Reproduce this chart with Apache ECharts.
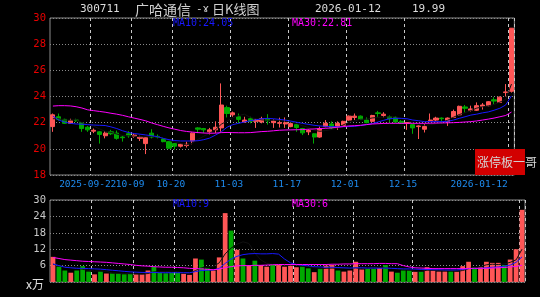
<!DOCTYPE html>
<html><head><meta charset="utf-8">
<script src="https://cdn.jsdelivr.net/npm/echarts@6/dist/echarts.min.js"></script>
<style>html,body{margin:0;padding:0;background:#000;}#c{width:540px;height:297px;}</style>
</head><body><div id="c"></div>
<script>
// ---------- DATA ----------
const dates = [
'2025-09-11','2025-09-12','2025-09-15','2025-09-16','2025-09-17','2025-09-18','2025-09-19','2025-09-22','2025-09-23','2025-09-24',
'2025-09-25','2025-09-26','2025-09-29','2025-09-30','2025-10-09','2025-10-10','2025-10-13','2025-10-14','2025-10-15','2025-10-16',
'2025-10-17','2025-10-20','2025-10-21','2025-10-22','2025-10-23','2025-10-24','2025-10-27','2025-10-28','2025-10-29','2025-10-30',
'2025-10-31','2025-11-03','2025-11-04','2025-11-05','2025-11-06','2025-11-07','2025-11-10','2025-11-11','2025-11-12','2025-11-13',
'2025-11-14','2025-11-17','2025-11-18','2025-11-19','2025-11-20','2025-11-21','2025-11-24','2025-11-25','2025-11-26','2025-11-27',
'2025-11-28','2025-12-01','2025-12-02','2025-12-03','2025-12-04','2025-12-05','2025-12-08','2025-12-09','2025-12-10','2025-12-11',
'2025-12-12','2025-12-15','2025-12-16','2025-12-17','2025-12-18','2025-12-19','2025-12-22','2025-12-23','2025-12-24','2025-12-25',
'2025-12-26','2025-12-29','2025-12-30','2025-12-31','2026-01-05','2026-01-06','2026-01-07','2026-01-08','2026-01-09','2026-01-12'];

const openP = [21.7,22.45,22.25,21.95,22.2,22.0,21.65,21.35,21.3,21.0, 21.3,21.2,20.9,21.15,20.95,20.8,20.4,21.2,20.95,20.75,
 20.55,20.4,20.2,20.25,20.6,21.6,21.55,21.3,21.45,21.6, 23.15,22.6,22.45,22.05,22.3,22.1,22.05,22.3,22.0,21.95,
 21.9,21.7,21.85,21.55,21.3,21.15,20.9,21.7,21.9,21.7, 21.8,22.2,22.4,22.5,22.2,22.1,22.75,22.55,22.45,22.4,
 22.1,21.95,21.85,21.7,21.5,22.15,22.2,22.35,22.1,22.4, 22.6,23.2,22.95,22.95,23.25,23.3,23.75,23.55,24.3,24.4];
const closeP = [22.6,22.25,21.95,22.15,22.15,21.55,21.45,21.42,21.1,21.2, 21.15,20.8,20.85,21.0,21.05,20.9,20.85,20.9,20.9,20.55,
 20.05,20.2,20.35,20.35,21.2,21.5,21.45,21.45,21.65,23.35, 22.7,22.75,22.25,22.2,22.1,22.2,22.3,22.15,22.15,22.0,
 22.0,21.93,21.63,21.22,21.4,20.9,21.55,21.95,21.6,21.95, 22.1,22.5,22.5,22.25,22.0,22.55,22.7,22.65,22.3,22.05,
 21.95,22.0,21.6,21.75,21.7,22.2,22.35,22.3,22.35,22.85, 23.25,23.1,23.05,23.3,23.35,23.6,23.65,23.95,24.35,29.22];
const lowP = [21.3,22.15,21.9,21.9,22.05,21.3,21.3,21.2,20.4,20.8, 21.05,20.7,20.55,20.85,20.85,20.6,19.6,20.8,20.8,20.5,
 20.0,19.95,20.1,20.1,20.35,21.2,21.2,21.1,21.2,21.3, 22.4,22.45,21.95,22.0,21.95,21.6,21.95,21.85,21.6,21.63,
 21.6,21.65,21.3,21.05,21.05,20.4,20.85,21.65,21.5,21.45, 21.75,22.15,22.2,22.2,21.95,22.05,22.45,22.4,22.0,21.95,
 21.9,21.45,21.15,20.75,21.25,22.1,22.1,21.95,21.75,22.35, 22.55,22.75,22.85,22.9,23.0,23.25,23.4,23.5,24.0,24.3];
const highP = [22.7,22.7,22.3,22.3,22.3,22.05,21.75,21.55,21.35,21.35, 21.45,21.4,21.0,21.35,21.2,21.0,20.9,21.5,21.1,20.85,
 20.6,20.45,20.4,20.55,21.25,21.65,21.6,21.6,22.1,25.0, 23.3,22.85,22.7,22.45,22.45,22.3,22.45,22.65,22.25,22.38,
 22.4,21.95,21.9,21.6,21.5,21.2,21.7,22.2,22.1,22.1, 22.15,22.55,22.7,22.55,22.4,22.6,22.9,22.8,22.55,22.5,
 22.2,22.05,21.9,21.8,21.9,22.7,22.45,22.4,22.4,23.0, 23.3,23.35,23.3,23.55,23.5,23.65,23.95,24.0,24.95,29.22];

const ma5 = [22.3,22.3,22.2,22.2,22.22,22.01,21.85,21.74,21.53,21.34, 21.26,21.13,21.02,21.0,20.97,20.92,20.93,20.94,20.92,20.82,
 20.65,20.52,20.41,20.3,20.43,20.72,20.97,21.19,21.45,21.88, 22.12,22.38,22.54,22.65,22.4,22.3,22.21,22.19,22.18,22.16,
 22.12,22.05,21.94,21.76,21.64,21.42,21.34,21.4,21.48,21.59, 21.83,22.02,22.13,22.26,22.27,22.36,22.4,22.43,22.44,22.45,
 22.33,22.19,21.98,21.87,21.8,21.85,21.92,22.06,22.18,22.41, 22.62,22.77,22.92,23.11,23.21,23.28,23.39,23.57,23.78,24.95];
const ma10 = [22.5,22.2,22.05,21.95,21.9,21.88,21.85,21.82,21.8,21.78, 21.68,21.55,21.38,21.25,21.17,21.12,21.06,21.0,20.93,20.8,
 20.7,20.63,20.6,20.6,20.6,20.62,20.7,20.82,21.05,21.3, 21.65,21.85,21.95,22.05,22.15,22.22,22.3,22.33,22.3,22.25,
 22.2,22.12,22.03,21.95,21.87,21.8,21.75,21.72,21.7,21.69, 21.69,21.7,21.72,21.78,21.85,21.93,22.05,22.18,22.3,22.33,
 22.33,22.3,22.2,22.15,22.08,22.08,22.08,22.08,22.1,22.2, 22.33,22.45,22.58,22.65,22.75,22.82,22.95,23.1,23.35,24.05];
const ma30 = [23.27,23.3,23.3,23.28,23.22,23.12,22.98,22.92,22.86,22.8, 22.72,22.65,22.56,22.45,22.35,22.25,22.14,21.98,21.85,21.72,
 21.6,21.5,21.4,21.33,21.28,21.24,21.21,21.19,21.2,21.24, 21.25,21.24,21.23,21.23,21.24,21.28,21.32,21.34,21.38,21.42,
 21.44,21.45,21.46,21.47,21.5,21.52,21.55,21.57,21.6,21.65, 21.7,21.75,21.77,21.8,21.85,21.9,21.92,21.94,21.95,21.95,
 21.95,21.95,21.95,21.95,21.95,21.96,21.97,21.98,21.99,22.0, 22.02,22.05,22.08,22.13,22.2,22.27,22.35,22.45,22.55,22.81];

const volume = [9.2,5.6,4.2,3.4,4.2,5.8,3.8,2.8,3.8,3.1, 3.1,3.1,2.8,3.0,2.8,2.8,4.2,5.6,3.4,3.2,
 3.4,3.4,3.0,2.6,8.6,8.2,5.0,4.2,9.0,25.2, 18.8,11.8,8.6,6.0,7.8,6.2,5.6,6.6,6.2,5.6,
 6.5,5.4,5.6,5.0,3.6,4.8,6.0,6.2,4.2,3.8, 4.2,7.4,4.6,4.8,4.8,5.2,6.2,3.8,3.4,4.2,
 4.2,3.8,3.8,5.4,4.2,3.8,3.8,3.8,3.8,5.8, 7.4,5.4,5.4,7.4,7.0,7.0,6.2,8.2,12.0,26.4];
const volMa5 = [6.5,6.0,5.6,5.4,5.3,4.6,4.3,4.0,4.1,3.9, 3.3,3.2,3.2,3.0,3.0,2.9,3.1,3.7,3.8,3.8,
 4.0,3.8,3.3,3.1,4.2,5.2,5.5,5.7,7.0,10.3, 12.4,13.8,14.7,14.1,10.6,8.1,6.8,6.4,6.5,6.0,
 6.1,6.1,5.9,5.6,5.2,4.9,5.0,5.1,5.0,5.0, 4.9,5.2,4.8,5.0,5.2,5.4,5.1,5.0,4.7,4.6,
 4.4,3.9,3.9,4.3,4.3,4.2,4.2,4.2,3.9,4.2, 4.9,5.2,5.6,6.3,6.5,6.4,6.6,7.2,8.1,12.0];
const volMa10 = [6.6,6.0,5.4,5.2,5.0,5.0,4.9,4.8,4.7,4.5, 4.3,4.1,3.9,3.7,3.6,3.5,3.5,3.5,3.4,3.4,
 3.4,3.4,3.4,3.4,3.8,4.2,4.3,4.4,5.0,6.8, 8.4,9.4,10.0,10.3,10.4,10.3,10.3,10.4,10.2,8.4,
 7.0,6.4,6.1,5.9,5.6,5.5,5.4,5.4,5.3,5.2, 5.1,5.2,5.2,5.1,5.1,5.0,5.1,5.0,4.9,4.8,
 4.8,4.7,4.6,4.6,4.5,4.5,4.4,4.4,4.4,4.6, 4.9,4.9,5.0,5.2,5.4,5.5,5.8,6.2,7.2,9.2];
const volMa30 = [9.0,8.6,8.2,8.0,7.8,7.6,7.5,7.4,7.3,7.2, 7.0,6.8,6.6,6.4,6.1,5.9,5.8,5.6,5.5,5.4,
 5.4,5.3,5.2,5.0,4.9,4.8,4.6,4.5,4.7,5.3, 5.6,5.9,6.0,6.0,6.1,6.1,6.2,6.3,6.4,6.4,
 6.4,6.4,6.4,6.4,6.4,6.4,6.4,6.5,6.5,6.6, 6.6,6.7,6.7,6.7,6.7,6.8,6.8,6.7,6.7,6.0,
 5.5,5.2,5.1,5.0,4.9,4.9,4.9,4.9,4.9,4.9, 4.9,5.0,5.0,5.0,5.1,5.2,5.3,5.5,5.7,6.1];

const tickDates  = ['2025-09-22','2025-10-09','2025-10-20','2025-11-03','2025-11-17','2025-12-01','2025-12-15','2026-01-12'];
const tickLabels = ['2025-09-22','10-09','10-20','11-03','11-17','12-01','12-15','2026-01-12'];
const priceTicks = [18, 20, 22, 24, 26, 28, 30];
const volTicks = [0, 6, 12, 18, 24, 30];

const stockCode = '300711', stockName = '广哈通信', lastDate = '2026-01-12', pctChange = '19.99';

// ---------- CHART ----------
const RED = '#ff5656', GREEN = '#00aa00';
const MONO = 'DejaVu Sans Mono';
const CJK = 'Noto Sans CJK SC';
const XLC = '#1e8cf0', XFS = 9.5;
const showTick = (idx, val) => tickDates.indexOf(val) >= 0;
// an empty leading label keeps the min/max-label overlap check away from the first two real labels
const showLabel = (idx, val) => idx === 0 || showTick(idx, val);
const labelFmt = (val) => {
  const k = tickDates.indexOf(val);
  if (k < 0) return '';
  const t = tickLabels[k];
  if (k === 0) return '{f|' + t + '}';
  if (k === tickDates.length - 1) return '{l|' + t + '}{sp|}';
  return '{m|' + t + '}';
};
const rs = (o) => Object.assign({ fontFamily: MONO, fontSize: XFS, color: XLC }, o);
const vSplit = { show: true, interval: showTick, lineStyle: { color: '#c8c8c8', width: 1, type: [3, 3] } };
const hSplit = { show: true, lineStyle: { color: '#8a8a8a', width: 1, type: [1, 2] } };

const candleData = dates.map((d, i) => [openP[i], closeP[i], lowP[i], highP[i]]);
const volData = volume.map((v, i) => ({ value: v, itemStyle: { color: closeP[i] >= openP[i] ? RED : GREEN } }));
const line = (name, data, color, xi) => ({
  name, type: 'line', data, xAxisIndex: xi, yAxisIndex: xi, symbol: 'none', silent: true,
  lineStyle: { color, width: 1 }, z: 3
});

const txt = (text, x, y, font, fill, align) => ({
  type: 'text', x, y, z: 20, silent: true,
  style: { text, font, fill, verticalAlign: 'middle', align: align || 'left' }
});

const chart = echarts.init(document.getElementById('c'), null, { renderer: 'canvas' });
chart.setOption({
  backgroundColor: '#000',
  animation: false,
  grid: [
    { left: 50, right: 15, top: 18, height: 157, show: true, borderColor: '#8c8c8c', borderWidth: 1, backgroundColor: 'transparent' },
    { left: 50, right: 15, top: 200, height: 82, show: true, borderColor: '#8c8c8c', borderWidth: 1, backgroundColor: 'transparent' }
  ],
  xAxis: [
    { type: 'category', gridIndex: 0, data: dates, boundaryGap: true,
      axisLine: { show: false }, axisTick: { show: false },
      axisLabel: { interval: showLabel, formatter: labelFmt, color: XLC, fontFamily: MONO, fontSize: XFS,
                   margin: 5, hideOverlap: false, minMargin: 0,
                   rich: { f: rs({ width: 45.6, align: 'right' }), m: rs({ width: 36.6, align: 'left' }),
                           l: rs({}), sp: rs({ width: 64.6 }) } },
      splitLine: vSplit },
    { type: 'category', gridIndex: 1, data: dates, boundaryGap: true,
      axisLine: { show: false }, axisTick: { show: false }, axisLabel: { show: false },
      splitLine: vSplit }
  ],
  yAxis: [
    { type: 'value', gridIndex: 0, min: priceTicks[0], max: priceTicks[priceTicks.length - 1], interval: 2,
      axisLine: { show: false }, axisTick: { show: false },
      axisLabel: { color: '#e80000', fontFamily: MONO, fontSize: 10.5, margin: 4, showMinLabel: true, showMaxLabel: true },
      splitLine: hSplit },
    { type: 'value', gridIndex: 1, min: volTicks[0], max: volTicks[volTicks.length - 1], interval: 6,
      axisLine: { show: false }, axisTick: { show: false },
      axisLabel: { color: '#c8c8c8', fontFamily: MONO, fontSize: 10.5, margin: 4, showMinLabel: false, showMaxLabel: true },
      splitLine: hSplit }
  ],
  series: [
    { name: 'K', type: 'candlestick', xAxisIndex: 0, yAxisIndex: 0, data: candleData, barWidth: '80%', silent: true,
      itemStyle: { color: RED, color0: GREEN, borderColor: RED, borderColor0: GREEN, borderWidth: 1 }, z: 2 },
    line('MA5', ma5, '#111111', 0),
    line('MA10', ma10, '#1818ff', 0),
    line('MA30', ma30, '#ff00ff', 0),
    { name: 'VOL', type: 'bar', xAxisIndex: 1, yAxisIndex: 1, data: volData, barWidth: '80%', silent: true, z: 2 },
    line('VMA5', volMa5, '#111111', 1),
    line('VMA10', volMa10, '#1818ff', 1),
    line('VMA30', volMa30, '#ff00ff', 1)
  ],
  graphic: [
    txt(stockCode, 80, 9.5, '11px "' + MONO + '"', '#dcdcdc'),
    txt(stockName, 135, 9.5, '14px "' + CJK + '"', '#d0d0d0'),
    txt('-ɤ', 196, 9.5, '11px "' + MONO + '"', '#d0d0d0'),
    txt('日K线图', 212, 9.5, '13px "' + CJK + '"', '#d0d0d0'),
    txt(lastDate, 315, 9.5, '11px "' + MONO + '"', '#dcdcdc'),
    txt(pctChange, 412, 9.5, '11px "' + MONO + '"', '#dcdcdc'),
    txt('MA10:' + ma10[ma10.length - 1].toFixed(2), 173, 23, '10px "' + MONO + '"', '#1818ff'),
    txt('MA30:' + ma30[ma30.length - 1].toFixed(2), 292, 23, '10px "' + MONO + '"', '#ff00ff'),
    txt('MA10:' + Math.round(volMa10[volMa10.length - 1]), 173, 204.5, '10px "' + MONO + '"', '#1818ff'),
    txt('MA30:' + Math.round(volMa30[volMa30.length - 1]), 292, 204.5, '10px "' + MONO + '"', '#ff00ff'),
    txt('x万', 44, 284, '12px "' + CJK + '"', '#e0e0e0', 'right'),
    { type: 'rect', z: 19, silent: true, shape: { x: 475, y: 149, width: 50, height: 26 }, style: { fill: '#d20000' } },
    txt('涨停板一哥', 477, 162, '12px "' + CJK + '"', '#d4d4d4')
  ]
});
</script></body></html>
